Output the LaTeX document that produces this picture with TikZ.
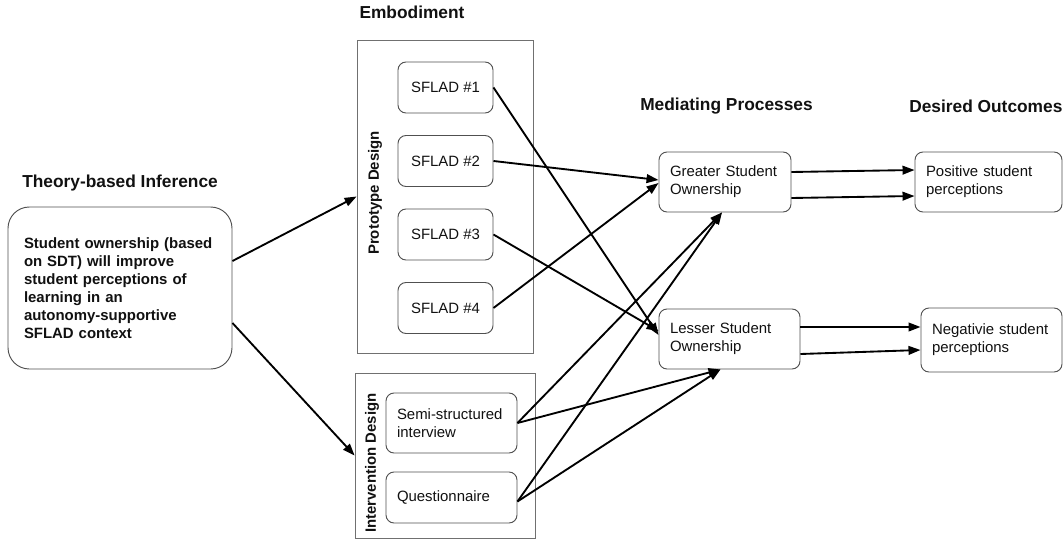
\documentclass[tikz,border=0pt]{standalone}
\usepackage{fontspec}
\setmainfont{Liberation Sans}
\usepackage{tikz}
\usetikzlibrary{positioning,calc,arrows.meta}
\definecolor{ink}{HTML}{111111}
\definecolor{edge}{HTML}{505050}
\definecolor{frame}{HTML}{707070}
\tikzset{
  panel/.style    = {draw=frame, line width=0.6pt, inner sep=0pt},
  card/.style     = {draw=edge, line width=0.7pt, rounded corners=6pt, fill=white, inner sep=0pt,
                     font=\fontsize{11.2}{13.5}\selectfont\color{ink}},
  cardl/.style    = {card, align=left, inner xsep=8.25pt},
  bigcard/.style  = {draw=edge, line width=0.7pt, rounded corners=16pt, fill=white, inner xsep=12pt,
                     font=\fontsize{11.2}{13.5}\selectfont\bfseries\color{ink}, align=left},
  heading/.style  = {font=\fontsize{13}{15}\selectfont\bfseries\color{ink}, inner sep=0pt},
  sidelab/.style  = {font=\fontsize{11.2}{13}\selectfont\bfseries\color{ink}, inner sep=0pt, rotate=90},
  flow/.style     = {-{Triangle[length=9pt,width=6.5pt]}, draw=black, line width=1.4pt},
}

\begin{document}
\begin{tikzpicture}[x=0.75pt,y=-0.75pt]
\path[use as bounding box] (0,0) rectangle (1064,542);

% ---- headings -----------------------------------------------------------
\node[heading]              (hemb)  at (412,12)  {Embodiment};
\node[heading, anchor=west] (htheo) at (22,183)  {Theory-based Inference};
\node[heading, anchor=west] (hmed)  at (640,106) {Mediating Processes};
\node[heading, anchor=west] (hout)  at (909,106) {Desired Outcomes};

% ---- theory ---------------------------------------------------------------
\node[bigcard, minimum height=121.5pt, text width=144pt] (theory) at (120,288)
  {Student ownership (based\\on SDT) will improve\\student perceptions of\\learning in an\\autonomy-supportive\\SFLAD context};

% ---- embodiment panels ----------------------------------------------------
\node[panel, minimum width=132pt, minimum height=234.75pt] (proto)  at (445,196.5) {};
\node[panel, minimum width=135pt, minimum height=123.75pt] (interv) at (445,455.5) {};
\node[sidelab] (lproto)  at (375,193) {Prototype Design};
\node[sidelab] (linterv) at (372,463) {Intervention Design};

\foreach \i/\y in {1/87.5, 2/161, 3/234.5, 4/308} {
  \node[card, minimum width=71.25pt, minimum height=38.25pt] (s\i) at (445.5,\y) {SFLAD \#\i};
}
\node[cardl, text width=81.75pt, minimum height=45pt]    (semi)  at (451.5,423)   {Semi-structured\\interview};
\node[cardl, text width=81.75pt, minimum height=38.25pt] (quest) at (451.5,497.5) {Questionnaire};

% ---- mediating processes and outcomes -------------------------------------
\node[cardl, text width=82.5pt,  minimum height=45pt] (gso) at (725,182)   {Greater Student\\Ownership};
\node[cardl, text width=89.25pt, minimum height=45pt] (lso) at (729.5,339) {Lesser Student\\Ownership};
\node[cardl, text width=93.75pt, minimum height=45pt] (pos) at (988.5,182) {Positive student\\perceptions};
\node[cardl, text width=89.25pt, minimum height=48pt] (neg) at (991.5,340) {Negativie student\\perceptions};

% ---- connectors -----------------------------------------------------------
\draw[flow] ($(theory.east)+(0,-27)$) -- (proto.west);
\draw[flow] ($(theory.east)+(0,35)$)  -- (interv.west);

\draw[flow] (s1.east) -- ($(lso.west)+(0,-4)$);
\draw[flow] (s2.east) -- ($(gso.west)+(0,-2)$);
\draw[flow] (s3.east) -- ($(lso.west)+(0,-8)$);
\draw[flow] (s4.east) -- ($(gso.west)+(0,1)$);

\draw[flow] (semi.east) -- ($(gso.south)+(-3,0)$);
\draw[flow] (semi.east) -- ($(lso.south)+(-9,0)$);
\draw[flow] ($(quest.east)+(0,4)$) -- ($(gso.south)+(-3,0)$);
\draw[flow] ($(quest.east)+(0,4)$) -- ($(lso.south)+(-9,0)$);

\draw[flow] ($(gso.east)+(0,-10)$) -- ($(pos.west)+(0,-12)$);
\draw[flow] ($(gso.east)+(0,16)$)  -- ($(pos.west)+(0,14)$);
\draw[flow] ($(lso.east)+(0,-12)$) -- ($(neg.west)+(0,-13)$);
\draw[flow] ($(lso.east)+(0,15)$)  -- ($(neg.west)+(0,10)$);

\end{tikzpicture}
\end{document}
